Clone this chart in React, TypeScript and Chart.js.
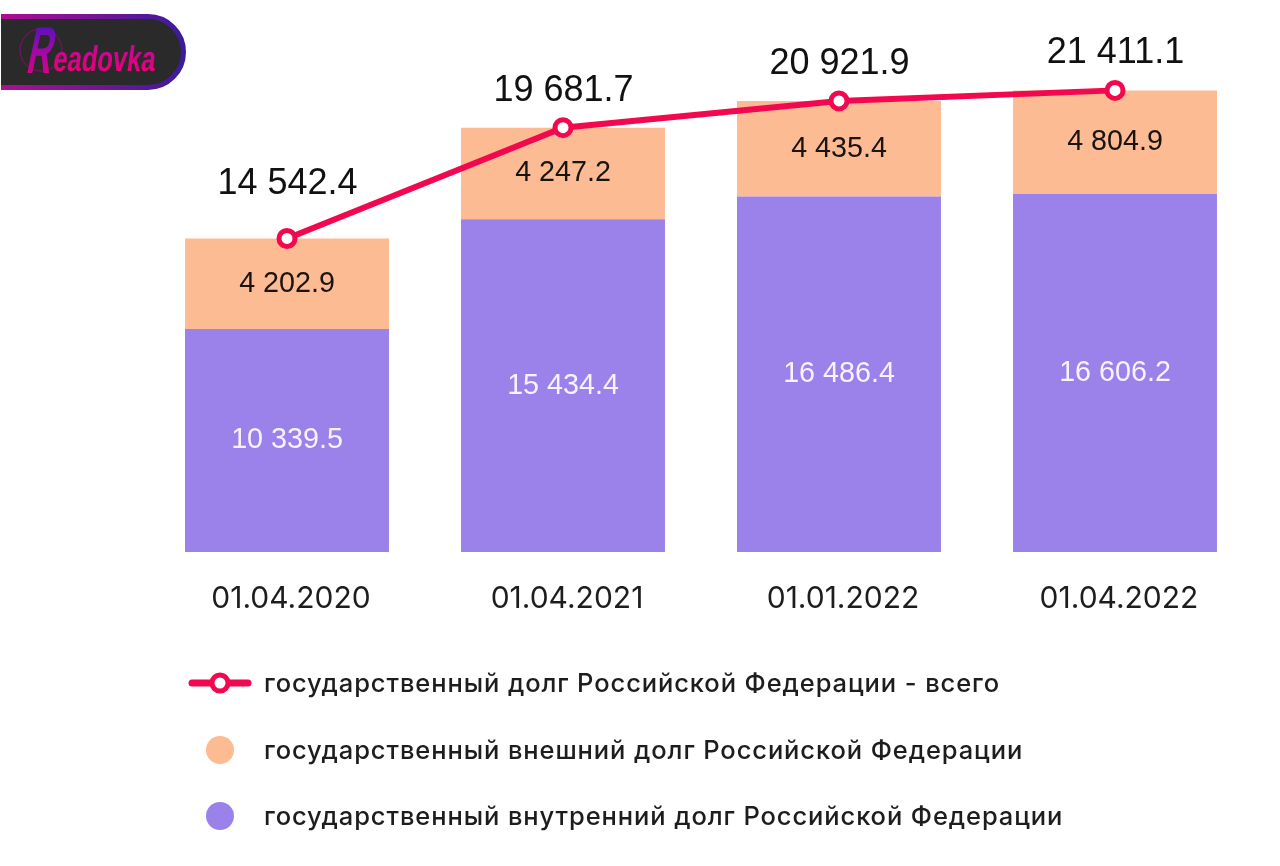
import React, { useEffect, useRef } from "react";
import { Chart, registerables } from "chart.js";

Chart.register(...registerables);

const categories = ["01.04.2020", "01.04.2021", "01.01.2022", "01.04.2022"];
const totalDebt = [14542.4, 19681.7, 20921.9, 21411.1];
const externalDebt = [4202.9, 4247.2, 4435.4, 4804.9];
const internalDebt = [10339.5, 15434.4, 16486.4, 16606.2];
const totalLabelOffsets = [54, 37, 37, 37];

const totalName = "государственный долг Российской Федерации - всего";
const externalName = "государственный внешний долг Российской Федерации";
const internalName = "государственный внутренний долг Российской Федерации";

const RED = "#F2084F";
const ORANGE = "#FCBB93";
const PURPLE = "#9B82EB";
const TEXT = "#1d1d1f";

const fmt = (v: number) =>
  v.toFixed(1).replace(/\B(?=(\d{3})+(?!\d))/g, " ");

const labelsPlugin = {
  id: "valueLabels",
  afterDatasetsDraw(chart: any) {
    const ctx = chart.ctx;
    ctx.save();
    ctx.textAlign = "center";
    ctx.textBaseline = "middle";
    chart.data.datasets.forEach((ds: any, di: number) => {
      const meta = chart.getDatasetMeta(di);
      meta.data.forEach((el: any, i: number) => {
        const text = fmt(ds.data[i]);
        if (ds.type === "line") {
          ctx.font = '36px "Liberation Sans"';
          ctx.fillStyle = "#111";
          ctx.fillText(text, el.x + 0.5, el.y - totalLabelOffsets[i]);
        } else {
          const cy = (el.y + el.base) / 2;
          ctx.font = '28.7px "Liberation Sans"';
          ctx.fillStyle = ds.label === internalName ? "#F6F2FF" : "#1a1410";
          ctx.fillText(text, el.x, cy);
        }
      });
    });
    ctx.restore();
  },
};

const legendPlugin = {
  id: "customLegend",
  afterDraw(chart: any) {
    const ctx = chart.ctx;
    const rows: [string, number][] = [
      [totalName, 684],
      [externalName, 751],
      [internalName, 817],
    ];
    ctx.save();
    ctx.textAlign = "left";
    ctx.textBaseline = "middle";
    ctx.font = '500 25.5px "Inter"';
    (ctx as any).letterSpacing = "0.9px";
    ctx.fillStyle = TEXT;
    rows.forEach(([t, y]) => ctx.fillText(t, 264, y));
    (ctx as any).letterSpacing = "0px";

    ctx.strokeStyle = RED;
    ctx.lineWidth = 7;
    ctx.lineCap = "round";
    ctx.beginPath();
    ctx.moveTo(192, 683);
    ctx.lineTo(248, 683);
    ctx.stroke();
    ctx.beginPath();
    ctx.arc(220, 683, 8, 0, Math.PI * 2);
    ctx.fillStyle = "#fff";
    ctx.lineWidth = 5;
    ctx.fill();
    ctx.stroke();

    ctx.fillStyle = ORANGE;
    ctx.beginPath();
    ctx.arc(220, 750, 14, 0, Math.PI * 2);
    ctx.fill();
    ctx.fillStyle = PURPLE;
    ctx.beginPath();
    ctx.arc(220, 816, 14, 0, Math.PI * 2);
    ctx.fill();
    ctx.restore();
  },
};

function Logo() {
  return (
    <svg
      width={190}
      height={95}
      style={{ position: "absolute", left: 0, top: 0 }}
    >
      <defs>
        <linearGradient id="lgBorder" gradientUnits="userSpaceOnUse" x1="0" y1="0" x2="185" y2="0">
          <stop offset="0" stopColor="#B00E90" />
          <stop offset="1" stopColor="#3A1C9C" />
        </linearGradient>
        <linearGradient id="lgR" gradientTransform="rotate(90)">
          <stop offset="0" stopColor="#3A12C8" />
          <stop offset="0.5" stopColor="#A008A8" />
          <stop offset="1" stopColor="#F00070" />
        </linearGradient>
        <linearGradient id="lgText" gradientTransform="rotate(90)">
          <stop offset="0" stopColor="#C005A0" />
          <stop offset="1" stopColor="#F00070" />
        </linearGradient>
      </defs>
      <path d="M1 16.5 H148 A35.5 35.5 0 0 1 148 87.5 H1 Z" fill="#2A2A2A" />
      <path
        d="M1 16.5 H148 A35.5 35.5 0 0 1 148 87.5 H1"
        fill="none"
        stroke="url(#lgBorder)"
        strokeWidth={5}
      />
      <circle cx={41} cy={50} r={21} fill="none" stroke="#8A0C70" strokeWidth={1} />
      <text
        transform="translate(25 73) skewX(-12) scale(0.52 1)"
        fontFamily="Liberation Sans"
        fontWeight={700}
        fontSize={66}
        fill="url(#lgR)"
      >
        R
      </text>
      <text
        transform="translate(52 71) skewX(-8) scale(0.71 1)"
        fontFamily="Liberation Sans"
        fontWeight={700}
        fontSize={36}
        fill="url(#lgText)"
      >
        eadovka
      </text>
    </svg>
  );
}

export default function App() {
  const ref = useRef<HTMLCanvasElement>(null);
  useEffect(() => {
    document.body.style.margin = "0";
    document.body.style.background = "#fff";
    const chart = new Chart(ref.current!, {
      type: "bar",
      data: {
        labels: categories,
        datasets: [
          {
            type: "line",
            label: totalName,
            data: totalDebt,
            borderColor: RED,
            borderWidth: 6,
            backgroundColor: "#fff",
            pointBackgroundColor: "#fff",
            pointBorderColor: RED,
            pointBorderWidth: 5,
            pointRadius: 8,
            tension: 0,
            order: 0,
          },
          {
            label: internalName,
            data: internalDebt,
            backgroundColor: PURPLE,
            stack: "debt",
            order: 1,
          },
          {
            label: externalName,
            data: externalDebt,
            backgroundColor: ORANGE,
            stack: "debt",
            order: 1,
          },
        ] as any,
      },
      options: {
        responsive: false,
        animation: false,
        devicePixelRatio: 1,
        layout: { padding: { left: 149, right: 27, top: 12.55, bottom: 228 } },
        datasets: { bar: { categoryPercentage: 1, barPercentage: 0.739 } },
        plugins: { legend: { display: false }, tooltip: { enabled: false } },
        scales: {
          x: {
            stacked: true,
            grid: { display: false },
            border: { display: false },
            ticks: {
              color: TEXT,
              padding: 21,
              labelOffset: 4,
              maxRotation: 0,
              font: { family: "Inter", size: 30 },
            },
          },
          y: { stacked: true, display: false, min: 0, max: 25000 },
        },
      } as any,
      plugins: [labelsPlugin, legendPlugin],
    });
    return () => chart.destroy();
  }, []);
  return (
    <div style={{ position: "absolute", left: 0, top: 0, width: 1280, height: 866 }}>
      <canvas ref={ref} width={1280} height={866} style={{ display: "block" }} />
      <Logo />
    </div>
  );
}
